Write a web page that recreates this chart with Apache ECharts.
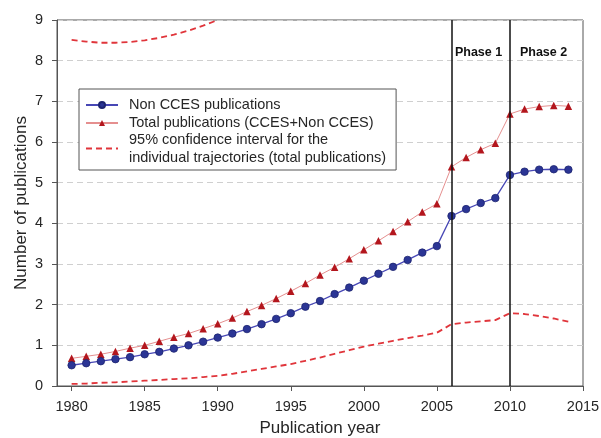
<!DOCTYPE html>
<html>
<head>
<meta charset="utf-8">
<script src="https://cdn.jsdelivr.net/npm/echarts@6/dist/echarts.min.js"></script>
<style>
  html, body { margin: 0; padding: 0; background: #fff; }
  #chart { width: 601px; height: 438px; }
</style>
</head>
<body>
<div id="chart"></div>
<script>
// Publication years covered by the fitted trajectories
const years = [];
for (let y = 1980; y <= 2014; y++) years.push(y);

// Mean number of Non CCES publications per year
const nonCces = [0.51, 0.56, 0.61, 0.66, 0.71, 0.78, 0.84, 0.92, 1.00, 1.09,
                 1.19, 1.29, 1.40, 1.52, 1.65, 1.79, 1.95, 2.09, 2.26, 2.42,
                 2.59, 2.76, 2.93, 3.10, 3.28, 3.44, 4.18, 4.35, 4.50, 4.62,
                 5.19, 5.27, 5.32, 5.33, 5.32];

// Mean number of total publications (CCES + Non CCES) per year
const totalPubs = [0.68, 0.73, 0.78, 0.85, 0.93, 1.00, 1.10, 1.20, 1.29, 1.41,
                   1.53, 1.67, 1.83, 1.98, 2.15, 2.33, 2.52, 2.73, 2.92, 3.13,
                   3.35, 3.57, 3.80, 4.04, 4.28, 4.48, 5.39, 5.62, 5.81, 5.97,
                   6.69, 6.81, 6.87, 6.90, 6.88];

// 95% interval bounds for individual trajectories (total publications)
const ciUpperYears = [1980, 1981, 1982, 1983, 1984, 1985, 1986, 1987, 1988, 1989, 1990];
const ciUpper = [8.51, 8.47, 8.44, 8.44, 8.46, 8.50, 8.56, 8.64, 8.74, 8.86, 9.00];
const ciLower = [0.05, 0.06, 0.08, 0.09, 0.11, 0.13, 0.15, 0.17, 0.19, 0.22,
                 0.25, 0.30, 0.36, 0.42, 0.48, 0.54, 0.62, 0.70, 0.79, 0.88,
                 0.97, 1.04, 1.11, 1.18, 1.24, 1.31, 1.52, 1.56, 1.59, 1.62,
                 1.79, 1.77, 1.72, 1.66, 1.58];

// Programme phase boundaries and their labels
const phaseStarts = [2006, 2010];
const phaseLabels = ['Phase 1', 'Phase 2'];

// Axis tick values
const xTicks = [1980, 1985, 1990, 1995, 2000, 2005, 2010, 2015];
const yTicks = [0, 1, 2, 3, 4, 5, 6, 7, 8, 9];

const nameNon = 'Non CCES publications';
const nameTotal = 'Total publications (CCES+Non CCES)';
const nameCi = '95% confidence interval for the individual trajectories (total publications)';

const pair = (xs, ys) => xs.map((x, i) => [x, ys[i]]);

const FONT = '"Liberation Sans", Arial, Helvetica, sans-serif';
const AXIS_COLOR = '#555';
const TEXT_COLOR = '#262626';

const chart = echarts.init(document.getElementById('chart'), null, { renderer: 'canvas' });

const ciStyle = { color: '#e0353b', width: 1.8, type: [6, 4] };

chart.setOption({
  animation: false,
  textStyle: { fontFamily: FONT },
  grid: {
    left: 57, right: 18, top: 20, bottom: 52,
    outerBoundsMode: 'none',
    show: true, borderColor: AXIS_COLOR, borderWidth: 1, backgroundColor: '#fff'
  },
  legend: {
    orient: 'vertical',
    left: 79, top: 89,
    padding: [7, 10, 5, 6],
    itemGap: 0,
    itemWidth: 32, itemHeight: 7.5,
    borderColor: AXIS_COLOR, borderWidth: 1, backgroundColor: '#fff',
    textStyle: { fontSize: 14.5, color: TEXT_COLOR, fontFamily: FONT, lineHeight: 18, padding: [0, 0, 0, 6] },
    formatter: (n) => n === nameCi ? '95% confidence interval for the\nindividual trajectories (total publications)' : n,
    data: [
      { name: nameNon },
      { name: nameTotal },
      { name: nameCi, itemStyle: { color: 'rgba(0,0,0,0)', borderWidth: 0 }, textStyle: { padding: [0, 0, -18, 6] } }
    ]
  },
  xAxis: {
    type: 'value',
    min: 1979, max: 2015,
    name: 'Publication year',
    nameLocation: 'middle',
    nameGap: 34,
    nameMoveOverlap: false,
    nameTextStyle: { fontSize: 17, color: TEXT_COLOR, fontFamily: FONT },
    axisLine: { show: true, lineStyle: { color: AXIS_COLOR, width: 1 } },
    axisTick: { show: true, length: 5, lineStyle: { color: AXIS_COLOR }, customValues: xTicks },
    axisLabel: { fontSize: 14.5, color: TEXT_COLOR, margin: 13, customValues: xTicks, formatter: (v) => String(v) },
    splitLine: { show: false }
  },
  yAxis: {
    type: 'value',
    min: 0, max: 9, interval: 1,
    name: 'Number of publications',
    nameLocation: 'middle',
    nameGap: 27,
    nameMoveOverlap: false,
    nameTextStyle: { fontSize: 17, color: TEXT_COLOR, fontFamily: FONT },
    axisLine: { show: true, lineStyle: { color: AXIS_COLOR, width: 1 } },
    axisTick: { show: true, length: 5, lineStyle: { color: AXIS_COLOR } },
    axisLabel: { fontSize: 14.5, color: TEXT_COLOR, margin: 14, customValues: yTicks },
    splitLine: { show: true, lineStyle: { color: '#cfcfcf', width: 1, type: [6, 4] } }
  },
  series: [
    {
      name: nameCi,
      type: 'line',
      data: pair(ciUpperYears, ciUpper),
      showSymbol: false, symbol: 'none',
      lineStyle: ciStyle, itemStyle: { color: '#e0353b' },
      clip: true, z: 2
    },
    {
      name: nameCi,
      type: 'line',
      data: pair(years, ciLower),
      showSymbol: false, symbol: 'none',
      lineStyle: ciStyle, itemStyle: { color: '#e0353b' },
      z: 2
    },
    {
      name: nameTotal,
      type: 'line',
      data: pair(years, totalPubs),
      symbol: 'triangle', symbolSize: 7.5,
      lineStyle: { color: '#e58f8f', width: 1 },
      itemStyle: { color: '#b3161d', borderColor: '#b3161d', borderWidth: 0 },
      z: 3
    },
    {
      name: nameNon,
      type: 'line',
      data: pair(years, nonCces),
      symbol: 'circle', symbolSize: 7.5,
      lineStyle: { color: '#4747b5', width: 1.3 },
      itemStyle: { color: '#2b3595', borderColor: '#1d2470', borderWidth: 0.8 },
      z: 4,
      markLine: {
        silent: true,
        symbol: ['none', 'none'],
        label: { show: false },
        lineStyle: { color: '#111', width: 1.5, type: 'solid' },
        data: phaseStarts.map(x => ({ xAxis: x }))
      },
      markPoint: {
        silent: true,
        symbol: 'circle', symbolSize: 0,
        label: {
          show: true, position: 'inside',
          fontSize: 12.5, fontWeight: 'bold', color: '#111', fontFamily: FONT,
          formatter: (p) => p.name
        },
        data: [
          { name: phaseLabels[0], coord: [2007.85, 8.2] },
          { name: phaseLabels[1], coord: [2012.3, 8.2] }
        ]
      }
    }
  ]
});
</script>
</body>
</html>
